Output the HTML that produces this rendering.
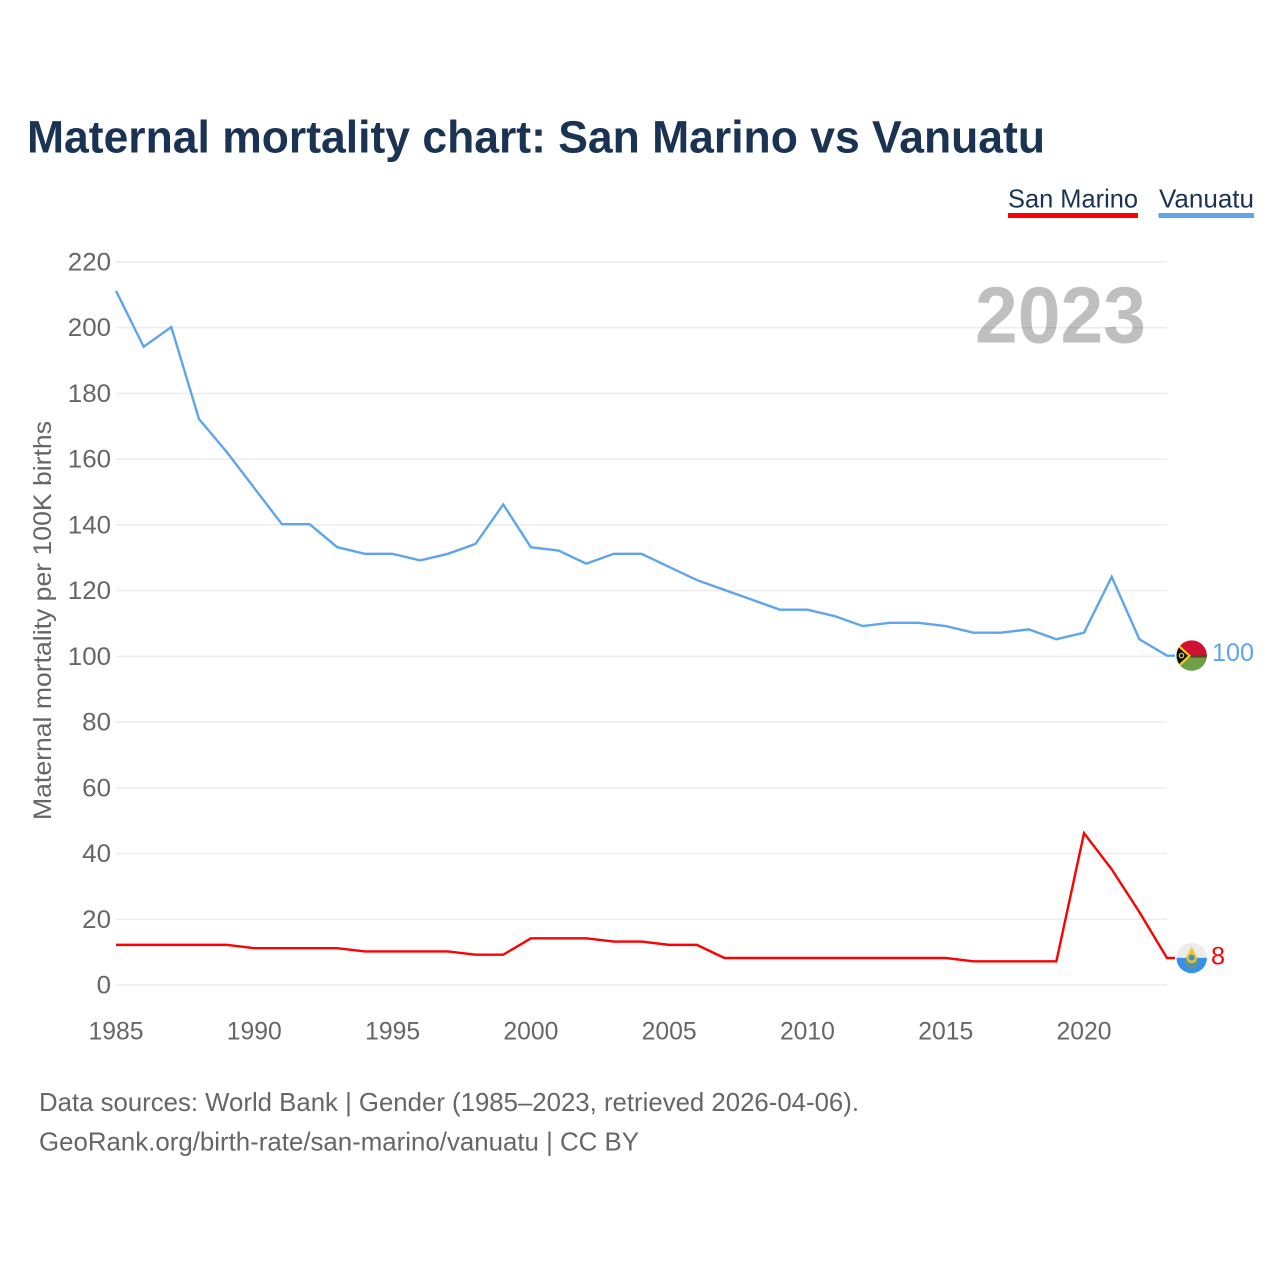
<!DOCTYPE html>
<html lang="en">
<head>
<meta charset="utf-8">
<title>Maternal mortality chart: San Marino vs Vanuatu</title>
<style>
html,body{margin:0;padding:0;background:#fff;width:1280px;height:1280px;overflow:hidden}
svg{display:block}
text{font-family:"Liberation Sans",sans-serif}
</style>
</head>
<body>
<svg id="chart" xmlns="http://www.w3.org/2000/svg" width="1280" height="1280" viewBox="0 0 1280 1280">
  <defs>
    <clipPath id="flag-clip-vu"><circle cx="1191.7" cy="655.6" r="15.2"/></clipPath>
    <clipPath id="flag-clip-sm"><circle cx="1191.7" cy="958" r="15.2"/></clipPath>
  </defs>
  <rect x="0" y="0" width="1280" height="1280" fill="#fff"/>
  <text x="27" y="152.5" font-size="45" font-weight="700" fill="#1a3353" textLength="1018" lengthAdjust="spacingAndGlyphs">Maternal mortality chart: San Marino vs Vanuatu</text>

  <g>
    <text x="1008" y="207.5" font-size="26" fill="#1a3353" textLength="130" lengthAdjust="spacingAndGlyphs">San Marino</text>
    <rect x="1008" y="213" width="130" height="5" fill="#ff0000"/>
  </g>
  <g>
    <text x="1159" y="207.5" font-size="26" fill="#1a3353" textLength="95" lengthAdjust="spacingAndGlyphs">Vanuatu</text>
    <rect x="1158.5" y="213" width="95.5" height="5" fill="#5ea5ec"/>
  </g>

  <g id="grid"></g>
  <g id="y-ticks"></g>
  <g id="x-ticks"></g>

  <text x="975" y="342.5" font-size="80" font-weight="700" fill="#000" fill-opacity="0.25" textLength="171" lengthAdjust="spacingAndGlyphs">2023</text>

  <text transform="translate(51 820) rotate(-90)" x="0" y="0" font-size="25" fill="#666" textLength="399" lengthAdjust="spacingAndGlyphs">Maternal mortality per 100K births</text>

  <g id="series"></g>

  <g clip-path="url(#flag-clip-vu)">
    <rect x="1176" y="640" width="32" height="15.5" fill="#d21034"/>
    <rect x="1176" y="655.5" width="32" height="17" fill="#6ea045"/>
    <rect x="1176" y="654.8" width="32" height="2.8" fill="#5b4a1e"/>
    <path d="M1176 642 L1191 655.8 L1176 670 Z" fill="#fdce12"/>
    <path d="M1176 645 L1188 655.8 L1176 667 Z" fill="#111"/>
    <circle cx="1181.5" cy="655.5" r="2.2" fill="none" stroke="#fdce12" stroke-width="1.2"/>
  </g>
  <g clip-path="url(#flag-clip-sm)">
    <rect x="1176" y="942" width="32" height="15.8" fill="#ececec"/>
    <rect x="1176" y="957.8" width="32" height="17" fill="#3a8fe8"/>
    <path d="M1191.7 946.5 L1195 953 L1188.4 953 Z" fill="#f2c230"/>
    <circle cx="1191.7" cy="958" r="5.3" fill="#e8c32e"/>
    <circle cx="1191.7" cy="957.6" r="3" fill="#3f8fd0"/>
    <path d="M1186 960 Q1187.5 967 1191.7 967 Q1196 967 1197.5 960" fill="none" stroke="#7d9a3a" stroke-width="1.6"/>
  </g>

  <text x="1212" y="661" font-size="25" fill="#5ea5ec" textLength="42" lengthAdjust="spacingAndGlyphs">100</text>
  <text x="1211" y="964.5" font-size="25" fill="#ff0000" textLength="14" lengthAdjust="spacingAndGlyphs">8</text>

  <text x="39" y="1111" font-size="26" fill="#666" textLength="820" lengthAdjust="spacingAndGlyphs">Data sources: World Bank | Gender (1985–2023, retrieved 2026-04-06).</text>
  <text x="39" y="1150.5" font-size="26" fill="#666" textLength="600" lengthAdjust="spacingAndGlyphs">GeoRank.org/birth-rate/san-marino/vanuatu | CC BY</text>
</svg>
<script>
const years = [1985,1986,1987,1988,1989,1990,1991,1992,1993,1994,1995,1996,1997,1998,1999,2000,2001,2002,2003,2004,2005,2006,2007,2008,2009,2010,2011,2012,2013,2014,2015,2016,2017,2018,2019,2020,2021,2022,2023];
const vanuatuValues = [211,194,200,172,162,151,140,140,133,131,131,129,131,134,146,133,132,128,131,131,127,123,120,117,114,114,112,109,110,110,109,107,107,108,105,107,124,105,100];
const sanMarinoValues = [12,12,12,12,12,11,11,11,11,10,10,10,10,9,9,14,14,14,13,13,12,12,8,8,8,8,8,8,8,8,8,7,7,7,7,46,35,22,8];
const yTickValues = [0,20,40,60,80,100,120,140,160,180,200,220];
const xTickValues = [1985,1990,1995,2000,2005,2010,2015,2020];

const NS = 'http://www.w3.org/2000/svg';
const xScale = function (year) { return 116 + (year - 1985) * (1167 - 116) / (2023 - 1985); };
const yScale = function (value) { return 985 - value * (985 - 262) / 220; };
const LINE_OFFSET = -0.7;

const grid = document.getElementById('grid');
const yTicks = document.getElementById('y-ticks');
const xTicks = document.getElementById('x-ticks');
const series = document.getElementById('series');

yTickValues.forEach(function (value) {
  const line = document.createElementNS(NS, 'line');
  
  
  line.setAttribute('x1', 116);
  line.setAttribute('x2', 1167);
  line.setAttribute('y1', yScale(value));
  line.setAttribute('y2', yScale(value));
  line.setAttribute('stroke', '#ececec');
  line.setAttribute('stroke-width', 1.5);
  grid.appendChild(line);

  const label = document.createElementNS(NS, 'text');
  
  
  const text = String(value);
  const width = text.length * 14.4;
  label.setAttribute('x', 111 - width);
  label.setAttribute('y', yScale(value) + 8.5);
  label.setAttribute('font-size', 25);
  label.setAttribute('fill', '#666');
  label.setAttribute('textLength', width);
  label.setAttribute('lengthAdjust', 'spacingAndGlyphs');
  label.textContent = text;
  yTicks.appendChild(label);
});

xTickValues.forEach(function (year) {
  const label = document.createElementNS(NS, 'text');
  
  
  label.setAttribute('x', xScale(year) - 27.5);
  label.setAttribute('y', 1039.5);
  label.setAttribute('font-size', 25);
  label.setAttribute('fill', '#666');
  label.setAttribute('textLength', 55);
  label.setAttribute('lengthAdjust', 'spacingAndGlyphs');
  label.textContent = String(year);
  xTicks.appendChild(label);
});

function drawSeries(values, color, name) {
  const pts = values.map(function (value, i) { return xScale(years[i]) + ',' + (yScale(value) + LINE_OFFSET); });
  const last = values[values.length - 1];
  pts.push((xScale(years[years.length - 1]) + 8) + ',' + (yScale(last) + LINE_OFFSET));
  const line = document.createElementNS(NS, 'polyline');
  
  
  line.setAttribute('points', pts.join(' '));
  line.setAttribute('fill', 'none');
  line.setAttribute('stroke', color);
  line.setAttribute('stroke-width', 2.4);
  line.setAttribute('stroke-linejoin', 'miter');
  series.appendChild(line);
}
drawSeries(vanuatuValues, '#5ea5ec', 'vanuatu-line');
drawSeries(sanMarinoValues, '#ff0000', 'san-marino-line');
</script>
</body>
</html>
